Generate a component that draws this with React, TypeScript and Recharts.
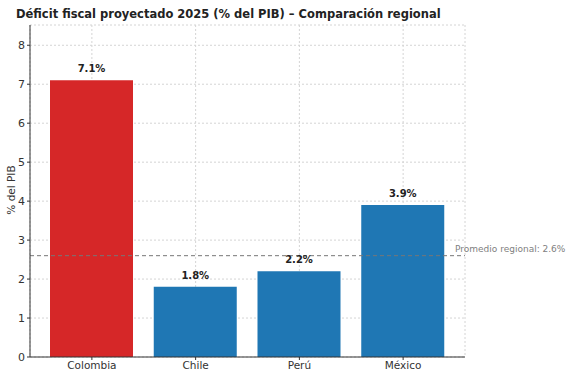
import React from "react";
import { BarChart, Bar, XAxis, YAxis, CartesianGrid, ReferenceLine, Cell, LabelList } from "recharts";

const countries = ["Colombia", "Chile", "Perú", "México"];
const deficits = [7.1, 1.8, 2.2, 3.9];
const barColors = ["#d62728", "#1f77b4", "#1f77b4", "#1f77b4"];
const yTicks = [0, 1, 2, 3, 4, 5, 6, 7, 8];
const regionalAverage = 2.6;
const title = "Déficit fiscal proyectado 2025 (% del PIB) – Comparación regional";

const data = countries.map((name, i) => ({ name, value: deficits[i] }));
const FONT = "'DejaVu Sans', sans-serif";

const AvgLabel = (props: any) => {
  const vb = props.viewBox || {};
  return (
    <text x={vb.x + vb.width - 10} y={vb.y - 4} fill="#808080" fontSize={9} fontFamily={FONT}>
      {`Promedio regional: ${regionalAverage}%`}
    </text>
  );
};

const ValueLabel = (props: any) => {
  const { x, y, width, value } = props;
  return (
    <text x={x + width / 2} y={y - 8} textAnchor="middle" fill="#222" fontSize={10} fontWeight="bold" fontFamily={FONT}>
      {`${value}%`}
    </text>
  );
};

export default function App() {
  return (
    <div style={{ position: "absolute", left: 0, top: 0, width: 570, height: 378, background: "#fff" }}>
      <svg width={570} height={378} style={{ position: "absolute", left: 0, top: 0, pointerEvents: "none", zIndex: 2 }}>
        <text x={16} y={18} fontSize={11.5} fontWeight="bold" fontFamily={FONT} fill="#222">{title}</text>
        <text x={0} y={0} transform="translate(15,190) rotate(-90)" textAnchor="middle" fontSize={10.5} fontFamily={FONT} fill="#333">% del PIB</text>
      </svg>
      <BarChart width={570} height={378} data={data} margin={{ top: 25, right: 105, bottom: 0, left: 0 }}>
        <CartesianGrid stroke="#d4d4d4" strokeDasharray="2 2" />
        <XAxis
          dataKey="name"
          padding={{ left: 10, right: 10 }}
          tick={{ fontSize: 10.5, fontFamily: FONT, fill: "#333" }}
          tickSize={3}
          stroke="#333"
          height={21}
        />
        <YAxis
          width={30}
          domain={[0, 8.52]}
          ticks={yTicks}
          tick={{ fontSize: 11, fontFamily: FONT, fill: "#333" }}
          tickSize={3}
          stroke="#333"
          allowDataOverflow
        />
        <Bar dataKey="value" barSize={83} isAnimationActive={false}>
          {data.map((d, i) => (
            <Cell key={d.name} fill={barColors[i]} />
          ))}
          <LabelList dataKey="value" content={ValueLabel} />
        </Bar>
        <ReferenceLine y={regionalAverage} stroke="#777" strokeDasharray="4 3" label={AvgLabel} ifOverflow="visible" />
      </BarChart>
    </div>
  );
}
